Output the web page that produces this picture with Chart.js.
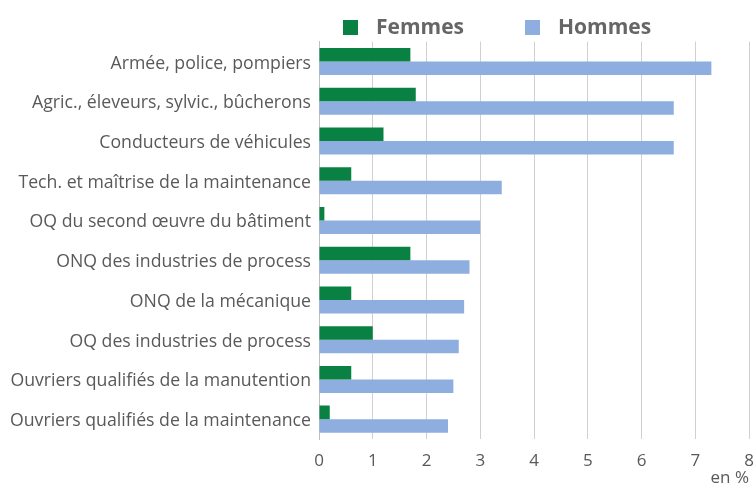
<!DOCTYPE html>
<html><head><meta charset="utf-8">
<script src="https://cdn.jsdelivr.net/npm/chart.js@4"></script>
<style>html,body{margin:0;padding:0;background:#fff}#wrap{width:755px;height:483px}</style>
</head><body><div id="wrap"><canvas id="c" width="755" height="483"></canvas></div>
<script>
const categories = [
  "Armée, police, pompiers",
  "Agric., éleveurs, sylvic., bûcherons",
  "Conducteurs de véhicules",
  "Tech. et maîtrise de la maintenance",
  "OQ du second œuvre du bâtiment",
  "ONQ des industries de process",
  "ONQ de la mécanique",
  "OQ des industries de process",
  "Ouvriers qualifiés de la manutention",
  "Ouvriers qualifiés de la maintenance"
];
const femmes = [1.7, 1.8, 1.2, 0.6, 0.1, 1.7, 0.6, 1.0, 0.6, 0.2];
const hommes = [7.3, 6.6, 6.6, 3.4, 3.0, 2.8, 2.7, 2.6, 2.5, 2.4];
const seriesLabels = ["Femmes", "Hommes"];
const xTicks = [0, 1, 2, 3, 4, 5, 6, 7, 8];
const unitLabel = "en %";

const FONT = "'Open Sans', sans-serif";

const customLegend = {
  id: 'customLegend',
  afterDraw(chart) {
    const ctx = chart.ctx;
    const items = chart.data.datasets;
    const starts = [343, 525];
    ctx.save();
    ctx.font = "bold 21px " + FONT;
    ctx.textBaseline = 'middle';
    items.forEach((ds, i) => {
      const x = starts[i];
      ctx.fillStyle = ds.backgroundColor;
      ctx.fillRect(x, 20, 15, 15);
      ctx.fillStyle = '#666666';
      ctx.fillText(ds.label, x + 33, 28);
    });
    ctx.restore();
  }
};

new Chart(document.getElementById('c'), {
  type: 'bar',
  data: {
    labels: categories,
    datasets: [
      { label: seriesLabels[0], data: femmes, backgroundColor: '#088142' },
      { label: seriesLabels[1], data: hommes, backgroundColor: '#8eaee0' }
    ]
  },
  options: {
    indexAxis: 'y',
    responsive: false,
    animation: false,
    devicePixelRatio: 1,
    layout: { padding: { top: 41.6, right: 6, left: 0, bottom: 0 } },
    datasets: { bar: { categoryPercentage: 0.68, barPercentage: 1.0 } },
    plugins: { legend: { display: false }, tooltip: { enabled: false } },
    scales: {
      x: {
        min: 0, max: 8,
        afterBuildTicks(s) { s.ticks = xTicks.map(v => ({ value: v })); },
        afterFit(s) { s.height = 483 - 439; s.paddingLeft = 0; s.paddingRight = 0; },
        grid: { color: '#d0d0d0', drawTicks: false, lineWidth: 1 },
        border: { display: false },
        ticks: { color: '#595959', font: { family: FONT, size: 17 }, padding: 12 },
        title: { display: true, text: unitLabel, align: 'end', color: '#595959',
                 font: { family: FONT, size: 17 }, padding: { top: 0, bottom: -5 } }
      },
      y: {
        afterFit(s) { s.width = 319; s.paddingTop = 0; s.paddingBottom = 0; },
        grid: { display: false, drawTicks: false },
        border: { display: true, color: '#bfbfbf' },
        ticks: { color: '#595959', font: { family: FONT, size: 17.7 }, padding: 8, labelOffset: 2 }
      }
    }
  },
  plugins: [customLegend]
});
</script></body></html>
